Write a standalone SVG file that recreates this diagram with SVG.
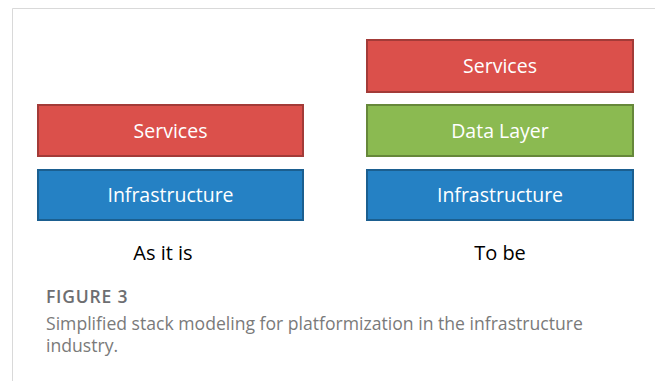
<svg xmlns="http://www.w3.org/2000/svg" width="655" height="381" viewBox="0 0 655 381">
<style>
.box{stroke-width:2}
.red{fill:#db504b;stroke:#a33b38}
.green{fill:#8bba51;stroke:#66883a}
.blue{fill:#2581c4;stroke:#1b5f90}
.lbl{font-family:"Open Sans","Liberation Sans",sans-serif;font-size:19.5px;fill:#fff;text-anchor:middle}
.col{font-family:"Open Sans","Liberation Sans",sans-serif;font-size:20px;fill:#000;text-anchor:middle}
.fig{font-family:"Open Sans","Liberation Sans",sans-serif;font-size:17.5px;fill:#6d6e71;font-weight:600;letter-spacing:0.8px}
.cap{font-family:"Open Sans","Liberation Sans",sans-serif;font-size:17.6px;fill:#7a7a7a}
</style>
<rect width="655" height="381" fill="#fff"/>
<path d="M12.5 381 V8.5 H655" fill="none" stroke="#d9d9d9" stroke-width="1"/>
<g id="left-services"><rect class="box red" x="38" y="105" width="265" height="51"/><text class="lbl" x="170.5" y="138">Services</text></g>
<g id="left-infra"><rect class="box blue" x="38" y="170" width="265" height="50"/><text class="lbl" x="170.5" y="202">Infrastructure</text></g>
<g id="right-services"><rect class="box red" x="367" y="40" width="266" height="52"/><text class="lbl" x="500" y="73">Services</text></g>
<g id="right-data"><rect class="box green" x="367" y="105" width="266" height="51"/><text class="lbl" x="500" y="138">Data Layer</text></g>
<g id="right-infra"><rect class="box blue" x="367" y="170" width="266" height="50"/><text class="lbl" x="500" y="202">Infrastructure</text></g>
<g id="connectors"></g>
<text class="col" x="163" y="260">As it is</text>
<text class="col" x="500" y="260">To be</text>
<text class="fig" x="46" y="303">FIGURE 3</text>
<text class="cap" x="46" y="330">Simplified stack modeling for platformization in the infrastructure</text>
<text class="cap" x="46" y="352">industry.</text>
</svg>
